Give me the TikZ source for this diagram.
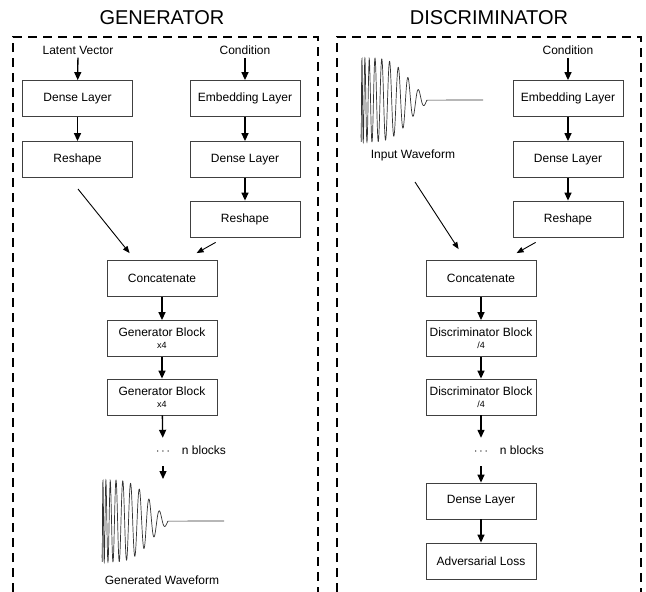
\documentclass[tikz,border=0pt]{standalone}
\usepackage{fontspec}
\setmainfont{Liberation Sans}
\usepackage{tikz}
\usetikzlibrary{arrows.meta}

\tikzset{
  layer/.style={draw=black!75,line width=0.8pt,minimum width=110pt,minimum height=36pt,inner xsep=1pt,align=center,font=\fontsize{12}{14}\selectfont},
  lbl/.style={font=\fontsize{12}{14}\selectfont},
  ttl/.style={font=\fontsize{20}{24}\selectfont},
  arr/.style={-{Triangle[length=8pt,width=7pt]},line width=1.3pt},
  slant/.style={-{Triangle[length=7pt,width=5.5pt]},line width=0.9pt},
  frame/.style={line width=1.6pt,dash pattern=on 9pt off 6pt},
  wave/.style={line width=0.7pt,black!80}
}

\begin{document}
\begin{tikzpicture}[x=1pt,y=-1pt]
\useasboundingbox (0,0) rectangle (646,592);

% frames
\node[ttl] (gtitle) at (162,18) {GENERATOR};
\node[ttl] (dtitle) at (489,18) {DISCRIMINATOR};
\draw[frame] (13,592) -- (13,37) -- (318,37) -- (318,592);
\draw[frame] (337,592) -- (337,37) -- (641,37) -- (641,592);

% generator
\node[lbl] (lv) at (78,50) {Latent Vector};
\node[lbl] (gcond) at (245,50) {Condition};
\node[layer] (gdense) at (77.5,98.5) {Dense Layer};
\node[layer] (gemb) at (245,98.5) {Embedding Layer};
\node[layer] (grs) at (77.5,159.5) {Reshape};
\node[layer] (gdense2) at (245,159.5) {Dense Layer};
\node[layer] (grs2) at (245,219) {Reshape};
\node[layer] (gcat) at (162,278.5) {Concatenate};
\node[layer] (gblk1) at (162,338.5) {Generator Block\\[-2pt]{\fontsize{9}{10}\selectfont x4}};
\node[layer] (gblk2) at (162,397) {Generator Block\\[-2pt]{\fontsize{9}{10}\selectfont x4}};
\node[lbl,minimum height=28pt,inner sep=0pt] (gdots) at (163,452) {$\cdots$};
\node[lbl] (gnb) at (204,450) {n blocks};
\coordinate (gwave) at (163,479);
\coordinate (gin) at (78,189);
\node[lbl] (gout) at (162,580) {Generated Waveform};

\draw[arr] (lv) -- (gdense);
\draw[arr] (gcond) -- (gemb);
\draw[arr] (gdense) -- (grs);
\draw[arr] (gemb) -- (gdense2);
\draw[arr] (gdense2) -- (grs2);
\draw[slant] (gin) -- ([xshift=23pt,yshift=7pt]gcat.north west);
\draw[slant] ([xshift=26pt,yshift=-5pt]grs2.south west) -- ([xshift=90pt,yshift=7pt]gcat.north west);
\draw[arr] (gcat) -- (gblk1);
\draw[arr] (gblk1) -- (gblk2);
\draw[arr] (gblk2) -- (gdots);
\draw[arr] (gdots) -- (gwave);

\draw[wave] plot[domain=0.001:1,samples=700,smooth] ({102+66*\x},{521+41*exp(-(\x/0.8)^4)*sin(360*9.5*\x^0.6)}) -- (224,521);

% discriminator
\node[lbl] (dcond) at (568,50) {Condition};
\node[layer] (demb) at (568,98.5) {Embedding Layer};
\node[layer] (ddense) at (568,159.5) {Dense Layer};
\node[layer] (drs) at (568,219) {Reshape};
\node[lbl] (din) at (413,155) {Input Waveform};
\coordinate (dstart) at (415,182);
\node[layer] (dcat) at (481,278.5) {Concatenate};
\node[layer] (dblk1) at (481,338.5) {Discriminator Block\\[-2pt]{\fontsize{9}{10}\selectfont /4}};
\node[layer] (dblk2) at (481,397) {Discriminator Block\\[-2pt]{\fontsize{9}{10}\selectfont /4}};
\node[lbl,minimum height=28pt,inner sep=0pt] (ddots) at (481,452) {$\cdots$};
\node[lbl] (dnb) at (522,450) {n blocks};
\node[layer] (ddense2) at (481,501) {Dense Layer};
\node[layer] (dloss) at (481,561) {Adversarial Loss};

\draw[wave] plot[domain=0.001:1,samples=700,smooth] ({361+66*\x},{100+42*exp(-(\x/0.8)^4)*sin(360*9.5*\x^0.6)}) -- (483,100);

\draw[arr] (dcond) -- (demb);
\draw[arr] (demb) -- (ddense);
\draw[arr] (ddense) -- (drs);
\draw[slant] (dstart) -- ([xshift=33pt,yshift=11pt]dcat.north west);
\draw[slant] ([xshift=23pt,yshift=-5pt]drs.south west) -- ([xshift=91pt,yshift=7pt]dcat.north west);
\draw[arr] (dcat) -- (dblk1);
\draw[arr] (dblk1) -- (dblk2);
\draw[arr] (dblk2) -- (ddots);
\draw[arr] (ddots) -- (ddense2);
\draw[arr] (ddense2) -- (dloss);

\end{tikzpicture}
\end{document}
